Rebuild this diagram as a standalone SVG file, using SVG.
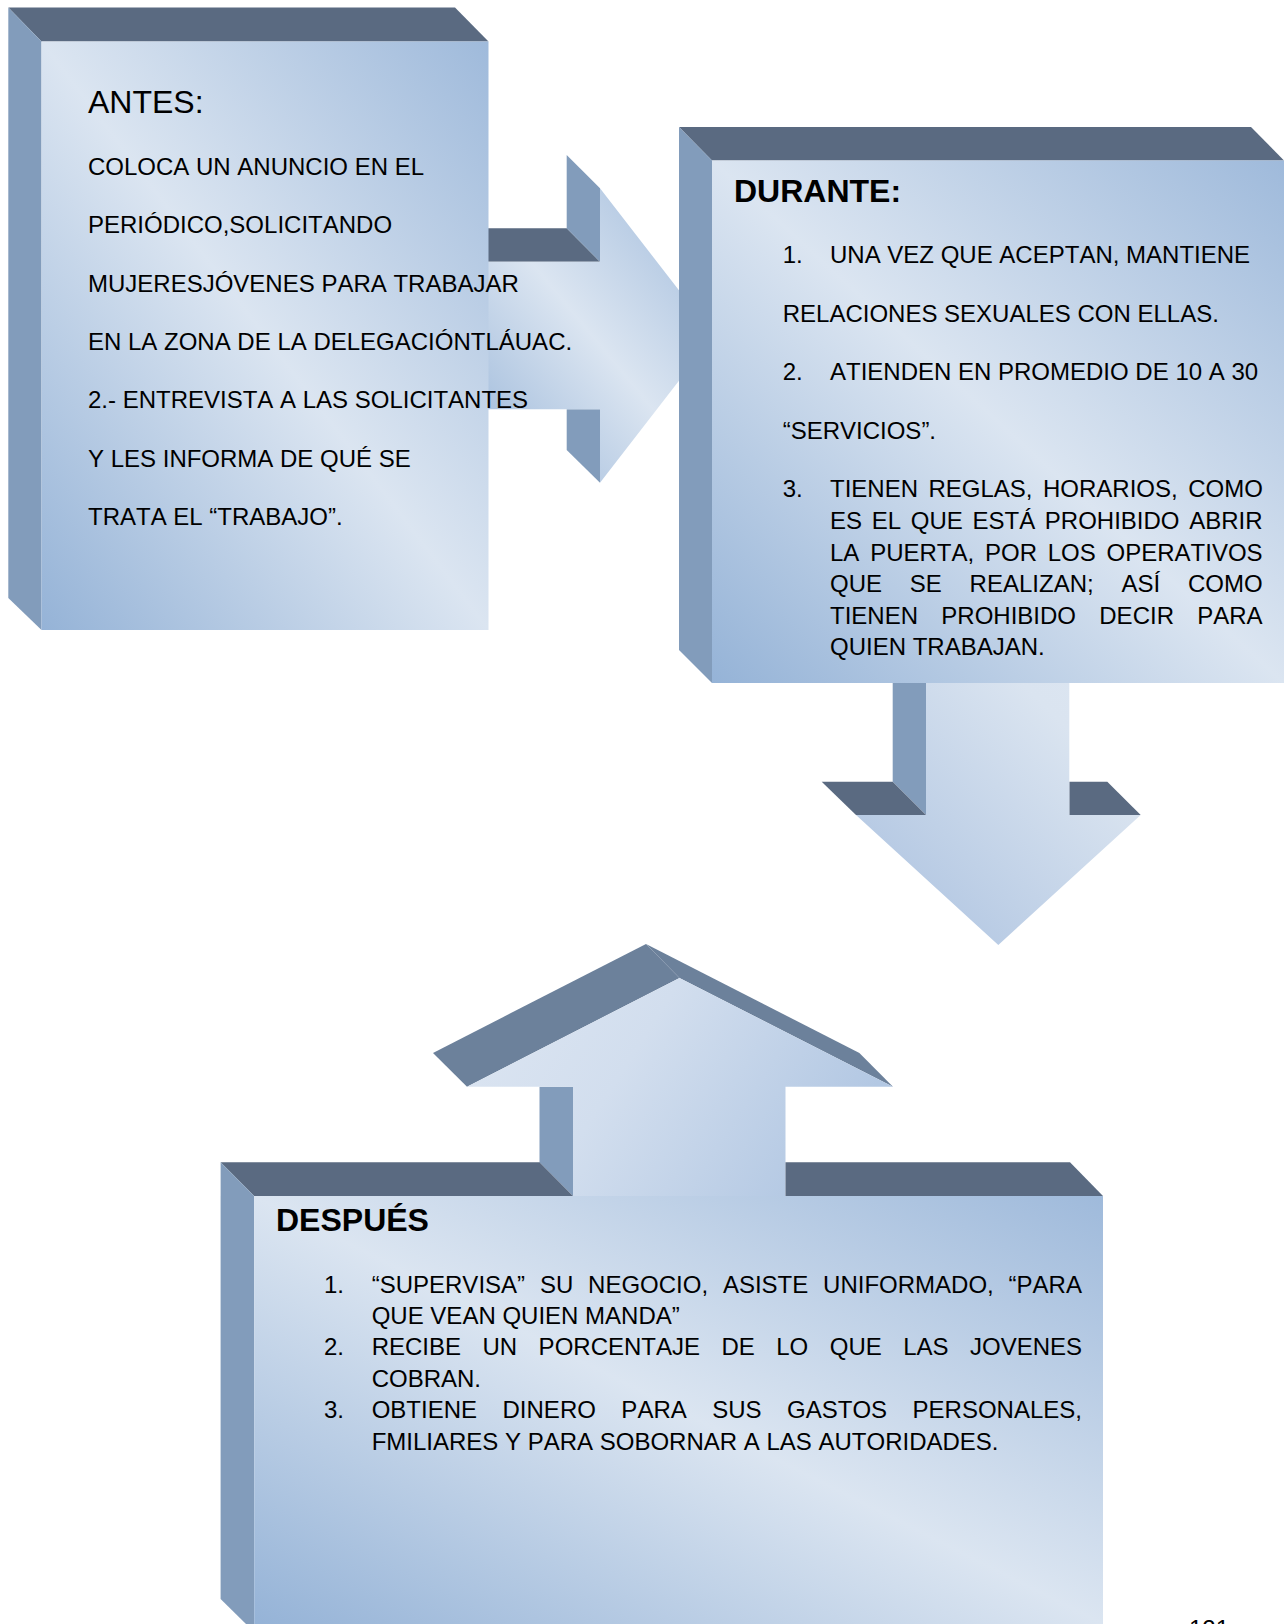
<svg xmlns="http://www.w3.org/2000/svg" width="1286" height="1624" viewBox="0 0 1286 1624">
<defs>
<linearGradient id="face" x1="0" y1="1" x2="1" y2="0">
<stop offset="0" stop-color="#95b3d7"/>
<stop offset="0.5" stop-color="#dbe5f1"/>
<stop offset="1" stop-color="#9fbadb"/>
</linearGradient>
<linearGradient id="downface" x1="0" y1="1" x2="1" y2="0">
<stop offset="0" stop-color="#a9c0df"/>
<stop offset="0.75" stop-color="#dae4f0"/>
<stop offset="1" stop-color="#dde6f2"/>
</linearGradient>
<linearGradient id="upface" x1="0" y1="0" x2="1" y2="0.35">
<stop offset="0" stop-color="#dde6f2"/>
<stop offset="0.45" stop-color="#d2deee"/>
<stop offset="1" stop-color="#b3c8e3"/>
</linearGradient>
<style>
.top{fill:#5a6a81}
.band{fill:#6c819b}
.side{fill:#829cbb}
.front{fill:url(#face)}
text{font-family:"Liberation Sans",Arial,sans-serif;font-size:24px;fill:#000;font-kerning:none}
.h{font-size:32px}
.hb{font-size:32px;font-weight:bold}
</style>
</defs>
<rect width="1286" height="1624" fill="#fff"/>
<g id="connectors">
<g id="arrow-right">
<polygon class="top" points="470,228.3 566.7,228.3 600,261.7 470,261.7"/>
<polygon class="side" points="566.7,155 600,188.3 600,261.7 566.7,228.3"/>
<polygon class="side" points="566.7,409.3 600,409.3 600,482.7 566.7,450"/>
<polygon class="front" points="470,261.7 600,261.7 600,188.3 714,335.5 600,482.7 600,409.3 470,409.3"/>
</g>
<g id="arrow-down">
<polygon class="side" points="892.7,660 926,660 926,815 892.7,781.7"/>
<polygon class="top" points="821.7,781.7 892.7,781.7 926,815 856,815"/>
<polygon class="top" points="1069.3,781.7 1107.3,781.7 1140.7,815 1069.3,815"/>
<polygon fill="url(#downface)" points="926,660 1069.3,660 1069.3,815 1140.7,815 998.3,945 856,815 926,815"/>
</g>
<g id="arrow-up">
<polygon class="band" points="433,1053 646,944 679.5,978 467,1086.7"/>
<polygon class="band" points="646,944 859.4,1053 893,1086.7 679.5,978"/>
<polygon class="side" points="539.5,1086.7 573,1086.7 573,1196 539.5,1162.3"/>
<polygon fill="url(#upface)" points="467,1086.7 679.5,978 893,1086.7 785.5,1086.7 785.5,1210 573,1210 573,1086.7"/>
</g>
</g>
<g id="node-antes">
<polygon class="top" points="8.3,7.5 455,7.5 488.5,41.5 41.5,41.5"/>
<polygon class="side" points="8.3,7.5 41.5,41.5 41.5,630 8.3,598"/>
<rect class="front" x="41.5" y="41.5" width="447" height="588.5"/>
<text class="h" x="88" y="113">ANTES:</text>
<text x="88" y="175">COLOCA UN ANUNCIO EN EL</text>
<text x="88" y="233.3">PERIÓDICO,SOLICITANDO</text>
<text x="88" y="291.6">MUJERESJÓVENES PARA TRABAJAR</text>
<text x="88" y="349.9">EN LA ZONA DE LA DELEGACIÓNTLÁUAC.</text>
<text x="88" y="408.2">2.- ENTREVISTA A LAS SOLICITANTES</text>
<text x="88" y="466.5">Y LES INFORMA DE QUÉ SE</text>
<text x="88" y="524.8">TRATA EL “TRABAJO”.</text>
</g>
<g id="node-durante">
<polygon class="top" points="679,127 1251,127 1284,160.5 712,160.5"/>
<polygon class="side" points="679,127 712,160.5 712,683 679,650"/>
<rect class="front" x="712" y="160.5" width="572" height="522.5"/>
<text class="hb" x="734" y="201.7">DURANTE:</text>
<text x="782.7" y="263.3">1.</text>
<text x="830" y="263.3">UNA VEZ QUE ACEPTAN, MANTIENE</text>
<text x="782.7" y="321.8">RELACIONES SEXUALES CON ELLAS.</text>
<text x="782.7" y="380.3">2.</text>
<text x="830" y="380.3">ATIENDEN EN PROMEDIO DE 10 A 30</text>
<text x="782.7" y="438.8">“SERVICIOS”.</text>
<text x="782.7" y="497.3">3.</text>
<text x="830" y="497.3" word-spacing="3.8">TIENEN REGLAS, HORARIOS, COMO</text>
<text x="830" y="528.9" word-spacing="3.03">ES EL QUE ESTÁ PROHIBIDO ABRIR</text>
<text x="830" y="560.5" word-spacing="4.13">LA PUERTA, POR LOS OPERATIVOS</text>
<text x="830" y="592.1" word-spacing="21.13">QUE SE REALIZAN; ASÍ COMO</text>
<text x="830" y="623.7" word-spacing="16.63">TIENEN PROHIBIDO DECIR PARA</text>
<text x="830" y="655.3">QUIEN TRABAJAN.</text>
</g>
<g id="node-despues">
<polygon class="top" points="220.6,1162.3 539.5,1162.3 573,1196 254.2,1196"/>
<polygon class="top" points="785.5,1162.3 1070,1162.3 1103,1196 785.5,1196"/>
<polygon class="side" points="220.6,1162.3 254.2,1196 254.2,1624 246,1624 220.6,1599"/>
<rect class="front" x="254.2" y="1196" width="848.8" height="428"/>
<text class="hb" x="276" y="1231">DESPUÉS</text>
<text x="324" y="1292.5">1.</text>
<text x="371.7" y="1292.5" word-spacing="8.17">“SUPERVISA” SU NEGOCIO, ASISTE UNIFORMADO, “PARA</text>
<text x="371.7" y="1323.9">QUE VEAN QUIEN MANDA”</text>
<text x="324" y="1355.4">2.</text>
<text x="371.7" y="1355.4" word-spacing="14.79">RECIBE UN PORCENTAJE DE LO QUE LAS JOVENES</text>
<text x="371.7" y="1386.8">COBRAN.</text>
<text x="324" y="1418.3">3.</text>
<text x="371.7" y="1418.3" word-spacing="18.83">OBTIENE DINERO PARA SUS GASTOS PERSONALES,</text>
<text x="371.7" y="1449.7">FMILIARES Y PARA SOBORNAR A LAS AUTORIDADES.</text>
</g>
<text x="1189" y="1637">121</text>
</svg>
